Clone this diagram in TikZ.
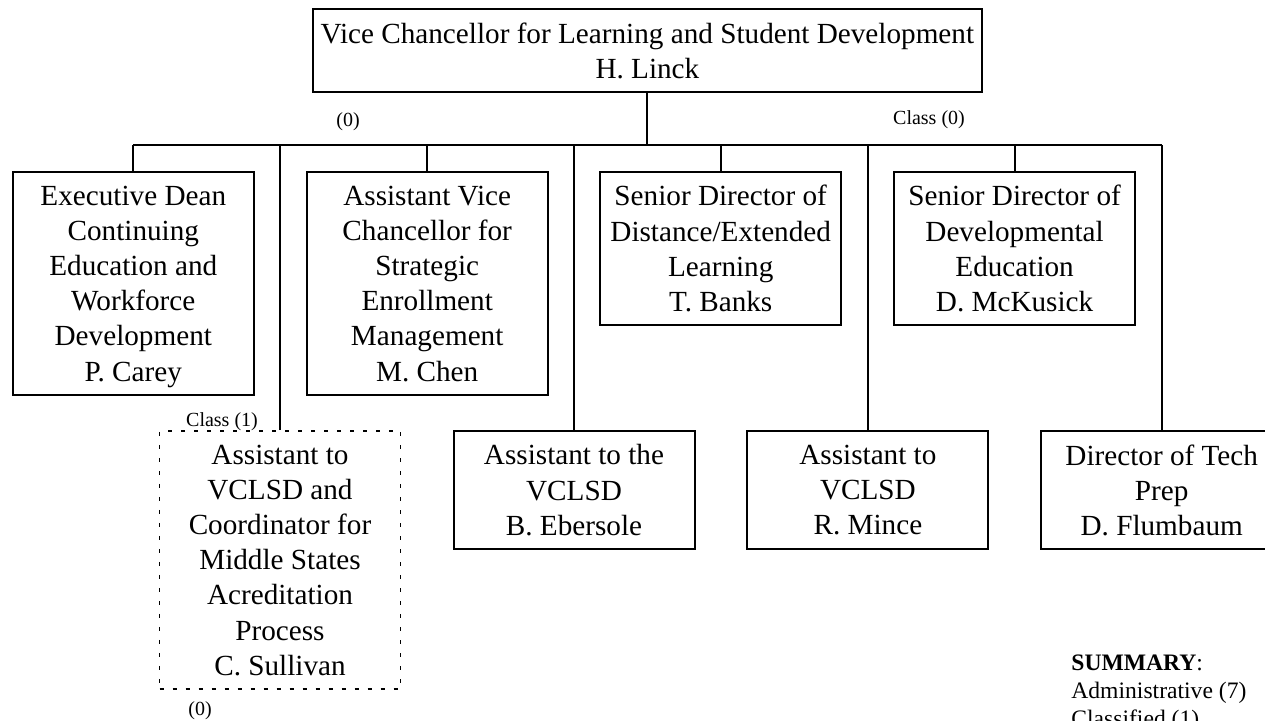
\documentclass[tikz,border=0pt]{standalone}
\usepackage{fontspec}
\setmainfont{Liberation Serif}

\tikzset{
  post/.style={draw, line width=1pt, align=center, inner sep=0pt,
    minimum width=120.5pt, text depth=-1pt,
    font=\fontsize{14.6}{17.6}\selectfont},
  acting/.style={post, line width=0.8pt, dash pattern=on 2pt off 4.5pt},
  count/.style={inner sep=0pt, font=\fontsize{10}{12}\selectfont},
  link/.style={line width=1pt}
}

\begin{document}
\begin{tikzpicture}[x=0.5pt, y=-0.5pt]

\useasboundingbox (0,0) rectangle (1265,721);

\node[post, minimum width=334.7pt, minimum height=41.5pt] (vclsd) at (647.4,50.5)
  {Vice Chancellor for Learning and Student Development\\H. Linck};

\node[post, minimum height=111.5pt] (exec) at (133.3,283.5)
  {Executive Dean\\Continuing\\Education and\\Workforce\\Development\\P. Carey};
\node[post, minimum height=111.5pt] (avc) at (427.2,283.5)
  {Assistant Vice\\Chancellor for\\Strategic\\Enrollment\\Management\\M. Chen};
\node[post, minimum height=76.5pt] (banks) at (720.7,248.5)
  {Senior Director of\\Distance/Extended\\Learning\\T. Banks};
\node[post, minimum height=76.5pt] (mck) at (1014.6,248.5)
  {Senior Director of\\Developmental\\Education\\D. McKusick};

\node[acting, minimum height=129pt] (sull) at (280,560)
  {Assistant to\\VCLSD and\\Coordinator for\\Middle States\\Acreditation\\Process\\C. Sullivan};
\node[post, minimum height=59pt] (eber) at (574,490)
  {Assistant to the\\VCLSD\\B. Ebersole};
\node[post, minimum height=59pt] (mince) at (867.9,490)
  {Assistant to\\VCLSD\\R. Mince};
\node[post, minimum height=59pt] (flum) at (1161.7,490)
  {Director of Tech\\Prep\\D. Flumbaum};

\coordinate (bus) at (646.2,145);

\draw[link] (vclsd.south) -- (vclsd.south |- bus);
\draw[link] (exec.north |- bus) -- (flum.north |- bus);
\foreach \n in {exec,sull,avc,eber,banks,mince,mck,flum}
    \draw[link] (\n.north) -- (\n.north |- bus);

\node[count] (vacleft) at (348,122) {(0)};
\node[count] (vacright) at (929,120) {Class (0)};
\node[count] (classone) at (222,422) {Class (1)};
\node[count] (vacsull) at (200,711) {(0)};

\node[anchor=north west, align=left, inner sep=0pt,
  font=\fontsize{11.8}{14}\selectfont] (summary) at (1071,654)
  {\textbf{SUMMARY}:\\Administrative (7)\\Classified (1)};

\end{tikzpicture}
\end{document}
